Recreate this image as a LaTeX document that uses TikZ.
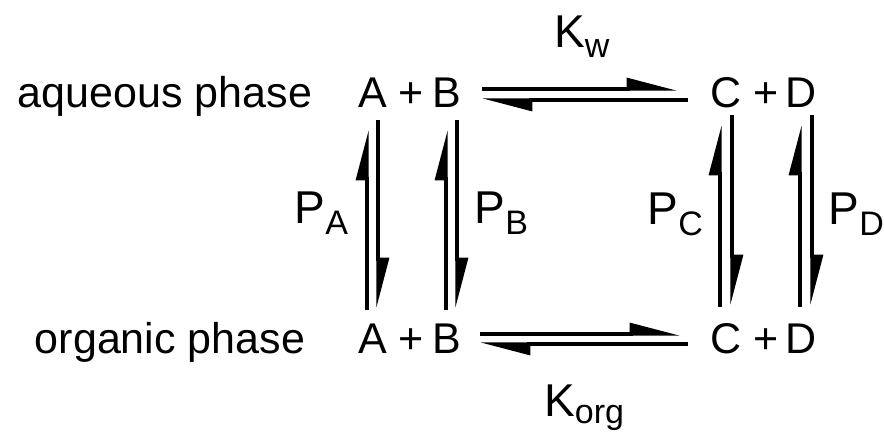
\documentclass[tikz,border=0pt]{standalone}
\usepackage{fontspec}
\setmainfont{Liberation Sans}
\usetikzlibrary{arrows.meta,calc}
\newcommand{\phsub}[2][11pt]{\raisebox{-#1}{\fontsize{34}{34}\selectfont #2}}

\begin{document}
\begin{tikzpicture}[
  x=1pt, y=-1pt,
  species/.style={inner sep=0pt, anchor=base, font=\fontsize{43}{50}\selectfont},
  const/.style={inner sep=0pt, anchor=base west, font=\fontsize{46}{52}\selectfont},
  harp/.style={line width=3.2pt, -{Triangle[harpoon,length=44pt,width=22pt]}}
]
  \useasboundingbox (0,0) rectangle (884,432);

  % phases
  \node[species] (aq)  at (165,107) {aqueous phase};
  \node[species] (org) at (170,353) {organic phase};

  % aqueous species
  \node[species] (aqA) at (372.5,107) {A};
  \node[species] (aqp) at (411,107)   {+};
  \node[species] (aqB) at (446.5,107) {B};
  \node[species] (aqC) at (726,107)   {C};
  \node[species] (aqq) at (766,107)   {+};
  \node[species] (aqD) at (801,107)   {D};

  % organic species
  \node[species] (orgA) at (372.5,353) {A};
  \node[species] (orgp) at (411,353)   {+};
  \node[species] (orgB) at (446.5,353) {B};
  \node[species] (orgC) at (726,353)   {C};
  \node[species] (orgq) at (766,353)   {+};
  \node[species] (orgD) at (801,353)   {D};

  % constants
  \node[const] (kw)  at (554,47)    {K\phsub[10pt]{w}};
  \node[const] (korg) at (544,416)  {K\phsub[7pt]{org}};
  \node[const] (pa)  at (294.5,223) {P\phsub{A}};
  \node[const] (pb)  at (474.5,223) {P\phsub{B}};
  \node[const] (pc)  at (647.5,224) {P\phsub{C}};
  \node[const] (pd)  at (828.5,224) {P\phsub{D}};

  % equilibria in the phases
  \draw[harp] ($(aqB.base)+(35.5,-18)$) -- ($(aqC.base)+(-49,-18)$);
  \draw[harp] ($(aqC.base)+(-38,-7)$)   -- ($(aqB.base)+(35.5,-7)$);
  \draw[harp] ($(orgB.base)+(33.5,-19)$) -- ($(orgC.base)+(-46,-19)$);
  \draw[harp] ($(orgC.base)+(-38,-9)$)   -- ($(orgB.base)+(33.5,-9)$);

  % partitioning
  \draw[harp] ($(orgA.base)+(-5.5,-43)$) -- ($(aqA.base)+(-5.5,23)$);
  \draw[harp] ($(aqA.base)+(5.5,13)$)    -- ($(orgA.base)+(5.5,-45)$);
  \draw[harp] ($(orgB.base)+(-0.5,-43)$) -- ($(aqB.base)+(-0.5,23)$);
  \draw[harp] ($(aqB.base)+(10.5,13)$)   -- ($(orgB.base)+(10.5,-45)$);
  \draw[harp] ($(orgC.base)+(-6,-46)$)   -- ($(aqC.base)+(-6,18)$);
  \draw[harp] ($(aqC.base)+(6,8)$)       -- ($(orgC.base)+(6,-48)$);
  \draw[harp] ($(orgD.base)+(-1,-46)$)   -- ($(aqD.base)+(-1,18)$);
  \draw[harp] ($(aqD.base)+(11,8)$)      -- ($(orgD.base)+(11,-48)$);
\end{tikzpicture}
\end{document}
